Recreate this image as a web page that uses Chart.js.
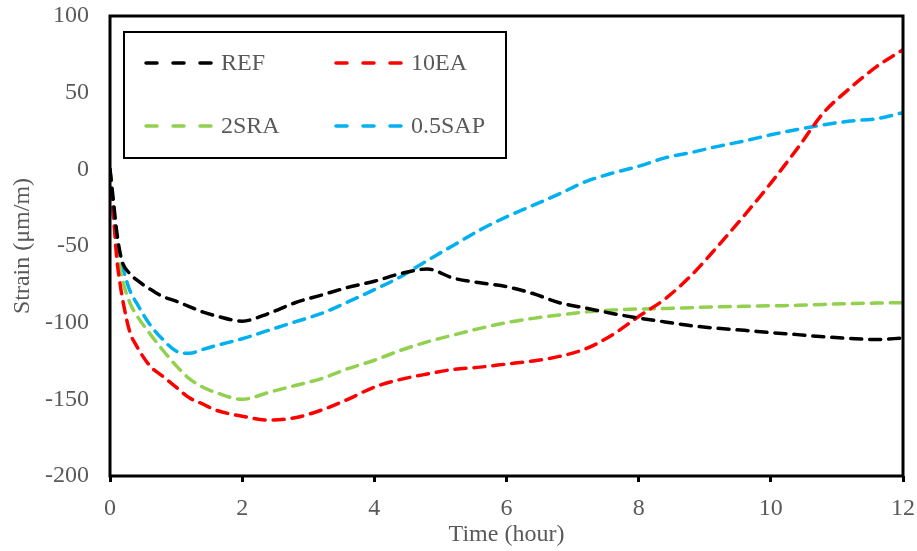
<!DOCTYPE html>
<html>
<head>
<meta charset="utf-8">
<script src="https://cdn.jsdelivr.net/npm/chart.js@4.4.1/dist/chart.umd.min.js"></script>
<style>
  html, body { margin: 0; padding: 0; background: #fff; }
  #wrap { width: 917px; height: 551px; position: relative; }
</style>
</head>
<body>
<div id="wrap"><canvas id="strainChart"></canvas></div>
<script>
const timeHours = [0, 0.05, 0.1, 0.15, 0.2, 0.3, 0.4, 0.6, 0.8, 1, 1.2, 1.4, 1.6, 2, 2.4, 2.8, 3.2, 3.6, 4, 4.4, 4.8,
    5.2, 5.6, 6, 6.4, 6.8, 7.2, 7.6, 8, 8.4, 8.8, 9.2, 9.6, 10, 10.4, 10.8, 11.2, 11.6, 12];

const refStrain = [0, -20, -40, -54, -62, -68, -72, -78, -83, -86, -89.5, -93, -95.5, -99, -94, -87, -82, -77, -73, -68, -65,
    -71, -74, -76.5, -81, -87, -90.5, -94, -97, -99.5, -102, -103.7, -105, -106.5, -107.8, -109.2, -110.3, -111, -110];
const eaStrain = [0, -28, -57, -74, -87, -106, -115, -128, -135, -142, -149, -153, -157, -161, -163.5, -162, -157, -150, -142, -137, -133.5,
    -130.5, -129, -127, -125, -122, -117, -108, -96, -84.5, -69, -50, -30, -9, 13.5, 37, 53, 67, 78];
const sraStrain = [0, -22, -48, -64, -74, -87, -95, -107, -118, -128, -136.5, -142, -145.5, -150, -145.5, -141, -136.5, -130, -124.5, -118, -112.5,
    -108, -103.7, -100, -97.2, -95, -93, -91.8, -91.1, -90.8, -90.2, -89.7, -89.3, -89, -88.7, -88.1, -87.6, -87.2, -87];
const sapStrain = [0, -30, -46, -55, -65, -79, -87, -101, -111, -118.5, -120, -117.5, -115, -110.5, -105, -99.5, -94, -86.5, -78.5, -70, -59.5,
    -49.5, -39.5, -31, -23.5, -16, -8, -2.5, 2, 7.5, 11, 15, 18.5, 22.5, 26, 29, 31.5, 33, 37];

const seriesNames = ['REF', '10EA', '2SRA', '0.5SAP'];
const seriesColors = ['#000000', '#ff0000', '#92d050', '#00b0f0'];
const seriesValues = [refStrain, eaStrain, sraStrain, sapStrain];

const xTicks = [0, 2, 4, 6, 8, 10, 12];
const yTicks = [-200, -150, -100, -50, 0, 50, 100];

const serif = '"Liberation Serif", "Times New Roman", serif';
const labelFont = { family: serif, size: 24 };
const textGrey = '#595959';

const datasets = seriesNames.map((name, i) => ({
    label: name,
    data: timeHours.map((t, j) => ({ x: t, y: seriesValues[i][j] })),
    borderColor: seriesColors[i],
    borderWidth: 3.5,
    borderDash: [11, 8],
    borderCapStyle: 'round',
    cubicInterpolationMode: 'monotone',
    pointRadius: 0,
    fill: false
}));

// frame around plot area + boxed legend inside
const framePlugin = {
    id: 'frame',
    afterDraw(chart) {
        const ctx = chart.ctx;
        const a = chart.chartArea;
        ctx.save();
        ctx.strokeStyle = '#000';
        ctx.lineWidth = 3;
        ctx.strokeRect(a.left, a.top, a.right - a.left, a.bottom - a.top);

        // legend box
        ctx.lineWidth = 2;
        ctx.strokeRect(124, 32, 382, 126);
        ctx.font = '24px ' + serif;
        ctx.textBaseline = 'middle';
        const spots = [[145, 63], [335, 63], [145, 126], [335, 126]];
        chart.data.datasets.forEach((ds, i) => {
            const [lx, ly] = spots[i];
            ctx.strokeStyle = ds.borderColor;
            ctx.lineWidth = 3.5;
            ctx.lineCap = 'round';
            ctx.setLineDash([11, 16]);
            ctx.beginPath();
            ctx.moveTo(lx + 1, ly);
            ctx.lineTo(lx + 70, ly);
            ctx.stroke();
            ctx.setLineDash([]);
            ctx.fillStyle = textGrey;
            ctx.fillText(ds.label, lx + 76, ly + 1);
        });
        ctx.restore();
    }
};

new Chart(document.getElementById('strainChart'), {
    type: 'line',
    data: { datasets },
    plugins: [framePlugin],
    options: {
        responsive: true,
        maintainAspectRatio: false,
        animation: false,
        layout: { padding: { top: 16, right: 14, left: 0, bottom: 0 } },
        plugins: {
            legend: { display: false },
            tooltip: { enabled: false }
        },
        scales: {
            x: {
                type: 'linear',
                min: 0,
                max: 12,
                afterBuildTicks: (s) => { s.ticks = xTicks.map(v => ({ value: v })); },
                afterFit: (s) => { s.height = 75; s.paddingLeft = 0; s.paddingRight = 0; },
                border: { display: false },
                grid: { drawOnChartArea: false, drawTicks: true, tickLength: 6, color: '#000', lineWidth: 3 },
                ticks: { color: textGrey, font: labelFont, padding: 12, maxRotation: 0 },
                title: {
                    display: true,
                    text: 'Time (hour)',
                    color: textGrey,
                    font: { family: serif, size: 24 },
                    padding: { top: 0, bottom: 2 }
                }
            },
            y: {
                min: -200,
                max: 100,
                afterBuildTicks: (s) => { s.ticks = yTicks.map(v => ({ value: v })); },
                afterFit: (s) => { s.width = 110; s.paddingTop = 0; s.paddingBottom = 0; },
                border: { display: false },
                grid: { display: false, drawTicks: false },
                ticks: { color: textGrey, font: labelFont, padding: 21 },
                title: {
                    display: true,
                    text: 'Strain (μm/m)',
                    color: textGrey,
                    font: { family: serif, size: 24 },
                    padding: { top: 8, bottom: 0 }
                }
            }
        }
    }
});
</script>
</body>
</html>
